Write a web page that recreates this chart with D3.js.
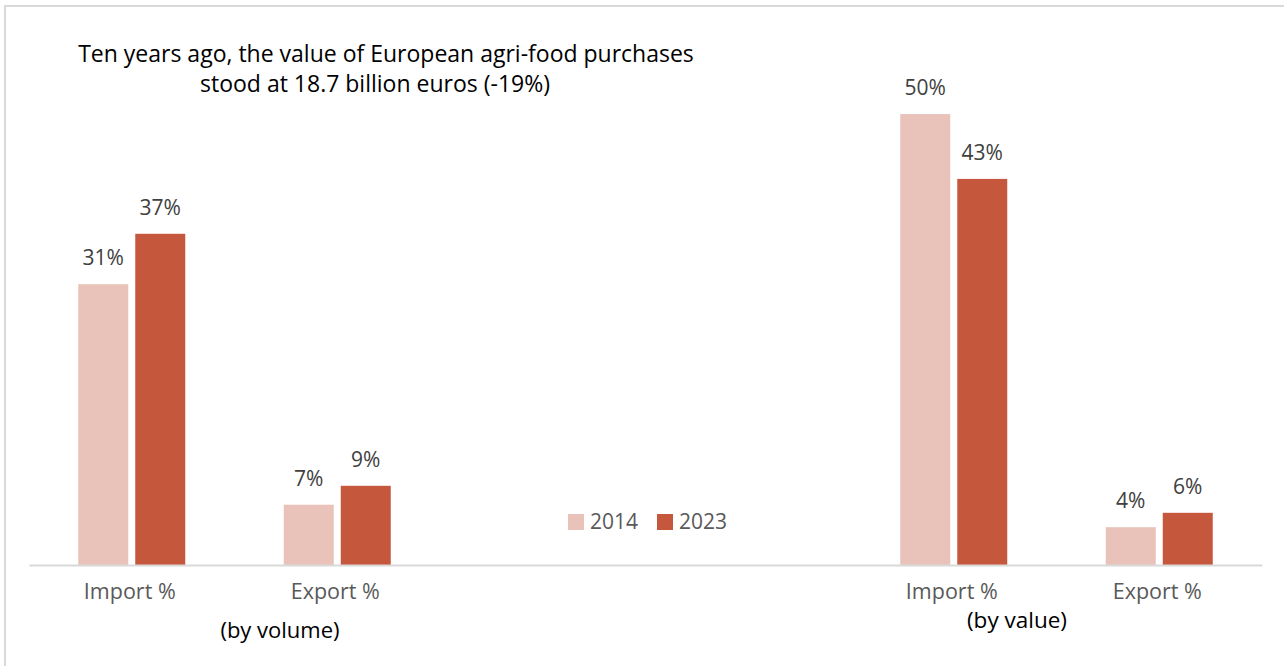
<!DOCTYPE html>
<html>
<head>
<meta charset="utf-8">
<script src="https://cdn.jsdelivr.net/npm/d3@7"></script>
<style>
  body { margin: 0; background: #fff; }
  svg { display: block; }
</style>
</head>
<body>
<svg id="chart" width="1284" height="666"></svg>
<script>
// slots along the axis, two empty ones hold the legend
var slots = ["volImport", "volExport", "gapA", "gapB", "valImport", "valExport"];
var slotLabels = ["Import %", "Export %", "", "", "Import %", "Export %"];
var years = ["2014", "2023"];
var values2014 = [31.2, 6.7, null, null, 50.1, 4.2];
var values2023 = [36.8, 8.8, null, null, 42.9, 5.8];
var colors = ["#e9c2b9", "#c5573d"];

var svg = d3.select("#chart");
var font = "Open Sans, sans-serif";

// frame
svg.append("rect")
  .attr("x", 5).attr("y", 6)
  .attr("width", 1320).attr("height", 700)
  .attr("fill", "none")
  .attr("stroke", "#d9d9d9")
  .attr("stroke-width", 2);

var x = d3.scaleBand().domain(slots).range([29, 1262]).padding(0);
var xYear = d3.scaleBand().domain(years).range([0, 107]).paddingInner(0.1228);
var y = d3.scaleLinear().domain([0, 55]).range([565, 70]);

var rows = [];
slots.forEach(function (s, i) {
  [values2014, values2023].forEach(function (arr, j) {
    if (arr[i] != null) rows.push({ slot: s, year: years[j], value: arr[i], color: colors[j] });
  });
});

function barX(d) {
  return x(d.slot) + x.bandwidth() / 2 - 53.5 + xYear(d.year);
}

svg.selectAll(".bar")
  .data(rows)
  .enter()
  .append("rect")
  .attr("class", "bar")
  .attr("x", barX)
  .attr("y", function (d) { return y(d.value); })
  .attr("width", xYear.bandwidth())
  .attr("height", function (d) { return y(0) - y(d.value); })
  .attr("fill", function (d) { return d.color; });

svg.selectAll(".lbl")
  .data(rows)
  .enter()
  .append("text")
  .attr("class", "lbl")
  .attr("x", function (d) { return barX(d) + xYear.bandwidth() / 2; })
  .attr("y", function (d) { return y(d.value) - 19; })
  .attr("text-anchor", "middle")
  .attr("font-family", font)
  .attr("font-size", "21px")
  .attr("fill", "#404040")
  .text(function (d) { return Math.round(d.value) + "%"; });

// axis
var axis = svg.append("g")
  .attr("transform", "translate(0,565)")
  .call(d3.axisBottom(x).tickSize(0).tickFormat(function (d, i) { return slotLabels[i]; }));
axis.select(".domain").attr("stroke", "#d9d9d9").attr("stroke-width", 2);
axis.selectAll("text")
  .attr("x", -2)
  .attr("y", 34)
  .attr("dy", 0)
  .attr("font-family", font)
  .attr("font-size", "21.5px")
  .attr("fill", "#595959");

// legend
var legend = svg.append("g").attr("transform", "translate(568,514)");
years.forEach(function (yr, i) {
  var g = legend.append("g").attr("transform", "translate(" + i * 89 + ",0)");
  g.append("rect").attr("width", 16).attr("height", 16).attr("fill", colors[i]);
  g.append("text")
    .attr("x", 22).attr("y", 15)
    .attr("font-family", font)
    .attr("font-size", "21px")
    .attr("fill", "#595959")
    .text(yr);
});

// title
var title = svg.append("text")
  .attr("text-anchor", "middle")
  .attr("font-family", font)
  .attr("font-size", "23px")
  .attr("fill", "#000");
title.append("tspan").attr("x", 386).attr("y", 62).text("Ten years ago, the value of European agri-food purchases");
title.append("tspan").attr("x", 375).attr("y", 92).text("stood at 18.7 billion euros (-19%)");

// group notes
svg.append("text")
  .attr("x", 280).attr("y", 638)
  .attr("text-anchor", "middle")
  .attr("font-family", font)
  .attr("font-size", "22px")
  .attr("fill", "#000")
  .text("(by volume)");
svg.append("text")
  .attr("x", 1017).attr("y", 628)
  .attr("text-anchor", "middle")
  .attr("font-family", font)
  .attr("font-size", "22.5px")
  .attr("fill", "#000")
  .text("(by value)");
</script>
</body>
</html>
